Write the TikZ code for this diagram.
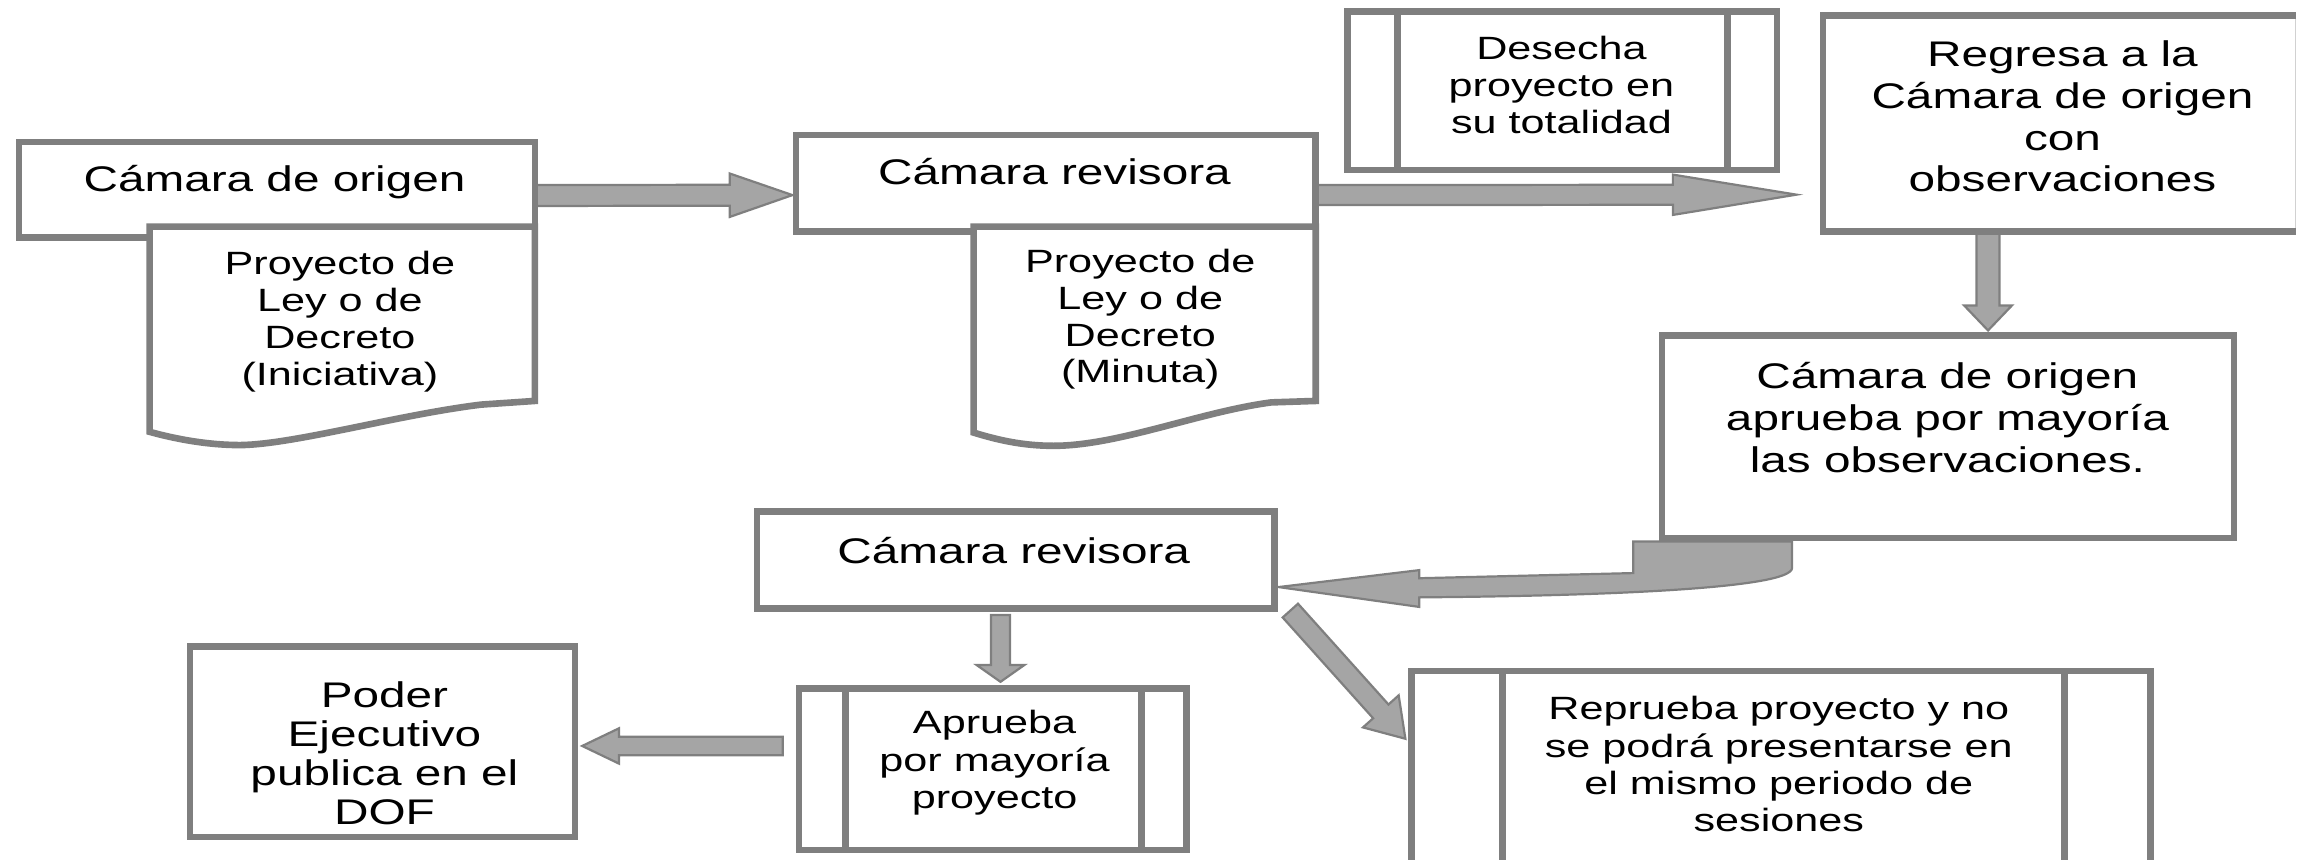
\documentclass[tikz,border=0pt]{standalone}
\usepackage{fontspec}
\setmainfont[FakeStretch=1.34]{Liberation Sans}
\usetikzlibrary{calc}
\definecolor{bord}{HTML}{7F7F7F}
\definecolor{arrfill}{HTML}{A5A5A5}
\tikzset{
  box/.style={draw=bord, line width=4.5pt, fill=white, inner sep=0pt, outer sep=0pt},
  docshape/.style={draw=bord, line width=4.5pt, fill=white, line join=miter},
  procline/.style={draw=bord, line width=4.5pt},
  blockarr/.style={draw=bord, fill=arrfill, line width=1.5pt, line join=miter},
  geom/.style={inner sep=0pt, outer sep=0pt},
  bigtxt/.style={align=center, font=\fontsize{24.2}{28.4}\selectfont, inner sep=0pt},
  smalltxt/.style={align=center, font=\fontsize{21.9}{25.4}\selectfont, inner sep=0pt},
}
\newcommand\blockarrow[5]{%
  \coordinate (bas) at (#1);
  \coordinate (bae) at (#2);
  \coordinate (bah) at ($(bae)!#5!(bas)$);
  \draw[blockarr] ($(bas)!#3!90:(bae)$) -- ($(bah)!#3!90:(bae)$) -- ($(bah)!#4!90:(bae)$)
    -- (bae) -- ($(bah)!#4!-90:(bae)$) -- ($(bah)!#3!-90:(bae)$) -- ($(bas)!#3!-90:(bae)$) -- cycle;
}
\begin{document}
\begin{tikzpicture}[x=1pt,y=-1pt]
\useasboundingbox (0,0) rectangle (1568,584);
\clip (0,0) rectangle (1568,584);
% node geometry (boxes drawn later, on top of the arrows)
\path
  node[geom, minimum width=350.5pt, minimum height=65pt] (A) at (188.25,129) {}
  node[geom, minimum width=353.3pt, minimum height=65.8pt] (B) at (717.65,124.6) {}
  node[geom, minimum width=291.7pt, minimum height=107.5pt] (Des) at (1061.85,61.75) {}
  node[geom, minimum width=321.2pt, minimum height=146.8pt] (R) at (1399.6,84.1) {}
  node[geom, minimum width=388.6pt, minimum height=137.6pt] (C) at (1324,296.8) {}
  node[geom, minimum width=351.8pt, minimum height=65.8pt] (D) at (690.4,380.7) {}
  node[geom, minimum width=263.5pt, minimum height=109.9pt] (E) at (674.85,522.85) {}
  node[geom, minimum width=261.6pt, minimum height=129.6pt] (F) at (260,504) {}
  node[geom, minimum width=502.6pt, minimum height=164pt] (G) at (1210.5,538) {};
% block arrows
\blockarrow{$(A.east)+(0,3.9)$}{$(B.west)+(-2.4,8)$}{7.1pt}{14.75pt}{42.6pt}
\blockarrow{$(B.east)+(0,8)$}{$(R.west)+(-18,48.2)$}{6.8pt}{13.7pt}{84pt}
\blockarrow{$(R.south)+(-48.4,0)$}{$(C.north)+(27.2,-3.4)$}{7.8pt}{16.25pt}{17pt}
\blockarrow{$(D.south)+(-10.4,4.4)$}{$(E.north)+(5.15,-4.5)$}{6.5pt}{16.2pt}{11.4pt}
\blockarrow{$(E.west)+(-11.1,-15.85)$}{$(F.east)+(4.9,3)$}{6.25pt}{12pt}{25pt}
\blockarrow{$(D.south east)+(10.7,1.4)$}{$(G.north west)+(-4,46.1)$}{7pt}{16.3pt}{25pt}
% curved arrow from C to D
\coordinate (cs) at (C.south west);
\coordinate (ct) at (D.east);
\draw[blockarr] ($(cs)+(-19.7,2.4)$) -- ($(cs)+(-19.7,23.9)$)
  -- ($(ct)+(98.3,12.3)$) -- ($(ct)+(98.3,6.8)$) -- ($(ct)+(2.7,18.3)$)
  -- ($(ct)+(98.3,31.8)$) -- ($(ct)+(98.3,25.3)$)
  .. controls ($(cs)+(-39.7,39.4)$) and ($(cs)+(88.3,34.4)$) .. ($(cs)+(88.3,20.4)$)
  -- ($(cs)+(88.3,2.4)$) -- cycle;
% boxes
\draw[box] (A.north west) rectangle (A.south east);
\draw[docshape] (101.7,154) -- (363.5,154) -- (363.5,272.5) -- (327,275)
  .. controls (270,282) and (200,302) .. (163.5,302.5)
  .. controls (140,302.5) and (118,298) .. (101.7,293.5) -- cycle;
\draw[box] (B.north west) rectangle (B.south east);
\draw[docshape] (661.7,154) -- (894.3,154) -- (894.3,272.5) -- (864,273.5)
  .. controls (815,280) and (760,303) .. (716,303)
  .. controls (695,303) and (678,299) .. (661.7,294) -- cycle;
\draw[box] (Des.north west) rectangle (Des.south east);
\draw[procline] ($(Des.north west)+(34,0)$) -- ($(Des.south west)+(34,0)$);
\draw[procline] ($(Des.north east)+(-33.7,0)$) -- ($(Des.south east)+(-33.7,0)$);
\fill[white] (R.north west) rectangle (R.south east);
\draw[draw=black!18, line width=0.8pt] (R.north east) -- (R.south east);
\draw[procline, line cap=butt, line join=miter] (R.north east) -- (R.north west) -- (R.south west) -- (R.south east);
\draw[box] (C.north west) rectangle (C.south east);
\draw[box] (D.north west) rectangle (D.south east);
\draw[box] (E.north west) rectangle (E.south east);
\draw[procline] ($(E.north west)+(31.6,0)$) -- ($(E.south west)+(31.6,0)$);
\draw[procline] ($(E.north east)+(-30.6,0)$) -- ($(E.south east)+(-30.6,0)$);
\draw[box] (F.north west) rectangle (F.south east);
\draw[box] (G.north west) rectangle (G.south east);
\draw[procline] ($(G.north west)+(61.8,0)$) -- ($(G.south west)+(61.8,0)$);
\draw[procline] ($(G.north east)+(-58.8,0)$) -- ($(G.south east)+(-58.8,0)$);
% texts
\node[bigtxt] (tA) at (186.6,123.5) {Cámara de origen};
\node[smalltxt, font=\fontsize{21.9}{25}\selectfont] (tdA) at (231,218.7) {Proyecto de\\Ley o de\\Decreto\\(Iniciativa)};
\node[bigtxt] (tB) at (716.7,116.7) {Cámara revisora};
\node[smalltxt, font=\fontsize{21.9}{25}\selectfont] (tdB) at (775,217) {Proyecto de\\Ley o de\\Decreto\\(Minuta)};
\node[smalltxt] (tDes) at (1061.3,57.8) {Desecha\\proyecto en\\su totalidad};
\node[bigtxt] (tR) at (1401.8,79.2) {Regresa a la\\Cámara de origen\\con\\observaciones};
\node[bigtxt] (tC) at (1323.6,283.7) {Cámara de origen\\aprueba por mayoría\\las observaciones.};
\node[bigtxt] (tD) at (689,373.9) {Cámara revisora};
\node[smalltxt] (tE) at (676,518.6) {Aprueba\\por mayoría\\proyecto};
\node[bigtxt, font=\fontsize{24.2}{26.5}\selectfont] (tF) at (261.3,512) {Poder\\Ejecutivo\\publica en el\\DOF};
\node[smalltxt] (tG) at (1209,519.5) {Reprueba proyecto y no\\se podrá presentarse en\\el mismo periodo de\\sesiones};
\end{tikzpicture}
\end{document}
